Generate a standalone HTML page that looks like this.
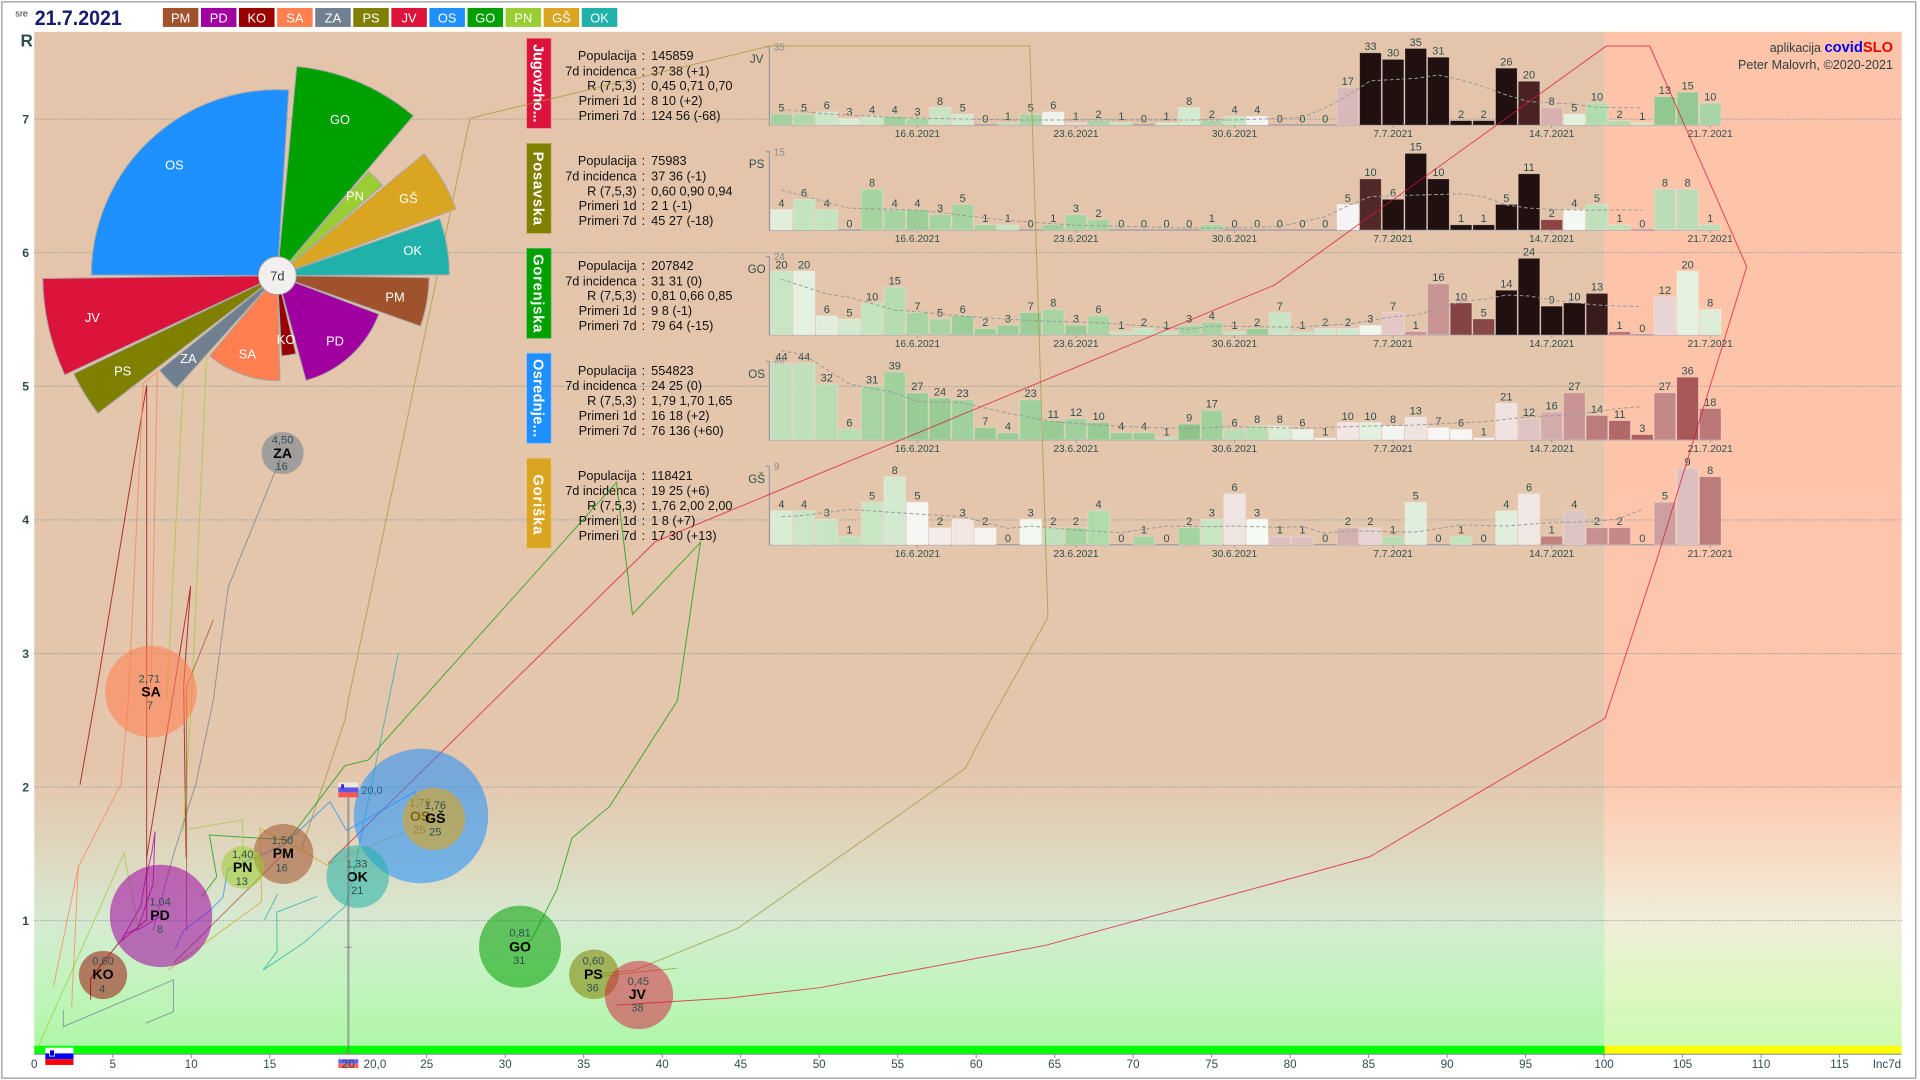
<!DOCTYPE html>
<html><head><meta charset="utf-8"><style>
html,body{margin:0;padding:0;background:#fff;overflow:hidden}
svg{display:block;font-family:"Liberation Sans",sans-serif}
.bl text{font-size:9px;fill:#2f4f4f;text-anchor:middle}
.bars rect{stroke:rgba(255,255,255,0.3);stroke-width:0.6}
.dt{font-size:8.3px;fill:#2f4f4f;text-anchor:middle}
.inf text{font-size:10.4px;fill:#111}
.lab{text-anchor:end}
.col{text-anchor:middle}
.xl text{font-size:9.5px;fill:#2f4f4f;text-anchor:middle}
.yl text{font-size:10px;fill:#2f4f4f;text-anchor:middle;font-weight:bold}
.wl text{font-size:10.5px;fill:#fff;text-anchor:middle}
.bub text{text-anchor:middle}
.bn{font-size:9px;fill:#2f4f4f}
.bnm{font-size:11.5px;font-weight:bold;fill:#000}
.tr polyline{fill:none;stroke-width:0.8;stroke-opacity:0.75}
.ma{fill:none;stroke:#9a9a9a;stroke-width:0.8;stroke-dasharray:3 2}
.ax{stroke:#9a9aa6;stroke-width:1;fill:none}
.chip text{font-size:10.5px;fill:#fff;text-anchor:middle}
</style></head><body>
<svg width="1920" height="1080" viewBox="0 0 1568 882" preserveAspectRatio="none" xmlns="http://www.w3.org/2000/svg">
<defs>
<linearGradient id="gL" gradientUnits="userSpaceOnUse" x1="0" y1="26" x2="0" y2="854">
<stop offset="0" stop-color="#e4c5ab"/><stop offset="0.73" stop-color="#e4c6ac"/><stop offset="0.815" stop-color="#dfd8c0"/><stop offset="0.877" stop-color="#d6ead2"/><stop offset="0.936" stop-color="#c3f4bf"/><stop offset="1" stop-color="#aff7a8"/>
</linearGradient>
<linearGradient id="gR" gradientUnits="userSpaceOnUse" x1="0" y1="26" x2="0" y2="854">
<stop offset="0" stop-color="#fdc4aa"/><stop offset="0.73" stop-color="#fdc5ab"/><stop offset="0.815" stop-color="#f8dcc6"/><stop offset="0.877" stop-color="#f0eed8"/><stop offset="0.936" stop-color="#e0f6c4"/><stop offset="1" stop-color="#cefab2"/>
</linearGradient>
</defs>
<rect x="0" y="0" width="1568" height="882" fill="#fff"/>
<rect x="1.5" y="1.5" width="1563" height="879" fill="none" stroke="#a8a8a8" stroke-width="1.2"/>

<!-- header -->
<text x="12.5" y="13.5" font-size="7.5" fill="#333">sre</text>
<text x="28.4" y="20.5" font-size="17" font-weight="bold" fill="#191970" textLength="71" lengthAdjust="spacingAndGlyphs">21.7.2021</text>
<g class="chip">
<rect x="133" y="6.5" width="29" height="15.5" fill="#a0522d"/><text x="147.5" y="18.3">PM</text>
<rect x="164.1" y="6.5" width="29" height="15.5" fill="#a000a0"/><text x="178.6" y="18.3">PD</text>
<rect x="195.2" y="6.5" width="29" height="15.5" fill="#990000"/><text x="209.7" y="18.3">KO</text>
<rect x="226.3" y="6.5" width="29" height="15.5" fill="#ff7f50"/><text x="240.8" y="18.3">SA</text>
<rect x="257.4" y="6.5" width="29" height="15.5" fill="#708090"/><text x="271.9" y="18.3">ZA</text>
<rect x="288.5" y="6.5" width="29" height="15.5" fill="#808000"/><text x="303" y="18.3">PS</text>
<rect x="319.6" y="6.5" width="29" height="15.5" fill="#dc143c"/><text x="334.1" y="18.3">JV</text>
<rect x="350.7" y="6.5" width="29" height="15.5" fill="#1e90ff"/><text x="365.2" y="18.3">OS</text>
<rect x="381.8" y="6.5" width="29" height="15.5" fill="#00a000"/><text x="396.3" y="18.3">GO</text>
<rect x="412.9" y="6.5" width="29" height="15.5" fill="#9acd32"/><text x="427.4" y="18.3">PN</text>
<rect x="444" y="6.5" width="29" height="15.5" fill="#daa520"/><text x="458.5" y="18.3">GŠ</text>
<rect x="475.1" y="6.5" width="29" height="15.5" fill="#20b2aa"/><text x="489.6" y="18.3">OK</text>
</g>

<!-- plot background -->
<rect x="28" y="26" width="1282.5" height="828" fill="url(#gL)"/>
<rect x="1310.5" y="26" width="242.5" height="828" fill="url(#gR)"/>
<rect x="28" y="854" width="1282.5" height="7" fill="#00ff00"/>
<rect x="1310.5" y="854" width="242.5" height="7" fill="#ffff00"/>
<line x1="28" y1="861" x2="1553" y2="861" stroke="#9a9aa6" stroke-width="1"/>

<!-- gridlines -->
<g stroke="#8a9c9c" stroke-width="0.7" stroke-dasharray="1.2 1.2">
<line x1="28" x2="1553" y1="97.3" y2="97.3"/>
<line x1="28" x2="1553" y1="206.4" y2="206.4"/>
<line x1="28" x2="1553" y1="315.5" y2="315.5"/>
<line x1="28" x2="1553" y1="424.6" y2="424.6"/>
<line x1="28" x2="1553" y1="533.7" y2="533.7"/>
<line x1="28" x2="1553" y1="642.8" y2="642.8"/>
<line x1="28" x2="1553" y1="751.9" y2="751.9"/>
</g>

<!-- y labels -->
<text x="21.8" y="38" font-size="14" font-weight="bold" fill="#2f4f4f" text-anchor="middle">R</text>
<g class="yl">
<text x="21" y="100.8">7</text><text x="21" y="209.9">6</text><text x="21" y="319">5</text><text x="21" y="428.1">4</text><text x="21" y="537.2">3</text><text x="21" y="646.3">2</text><text x="21" y="755.4">1</text>
</g>

<!-- x ticks and labels -->
<g stroke="#8a8a96" stroke-width="0.8">
<line x1="92.1" y1="861" x2="92.1" y2="864"/><line x1="156.2" y1="861" x2="156.2" y2="864"/><line x1="220.3" y1="861" x2="220.3" y2="864"/><line x1="348.5" y1="861" x2="348.5" y2="864"/><line x1="412.6" y1="861" x2="412.6" y2="864"/><line x1="476.7" y1="861" x2="476.7" y2="864"/><line x1="540.8" y1="861" x2="540.8" y2="864"/><line x1="604.9" y1="861" x2="604.9" y2="864"/><line x1="669" y1="861" x2="669" y2="864"/><line x1="733.1" y1="861" x2="733.1" y2="864"/><line x1="797.2" y1="861" x2="797.2" y2="864"/><line x1="861.3" y1="861" x2="861.3" y2="864"/><line x1="925.4" y1="861" x2="925.4" y2="864"/><line x1="989.5" y1="861" x2="989.5" y2="864"/><line x1="1053.6" y1="861" x2="1053.6" y2="864"/><line x1="1117.7" y1="861" x2="1117.7" y2="864"/><line x1="1181.8" y1="861" x2="1181.8" y2="864"/><line x1="1245.9" y1="861" x2="1245.9" y2="864"/><line x1="1310" y1="861" x2="1310" y2="864"/><line x1="1374.1" y1="861" x2="1374.1" y2="864"/><line x1="1438.2" y1="861" x2="1438.2" y2="864"/><line x1="1502.3" y1="861" x2="1502.3" y2="864"/>
</g>
<g class="xl">
<text x="28" y="872">0</text><text x="92.1" y="872">5</text><text x="156.2" y="872">10</text><text x="220.3" y="872">15</text><text x="348.5" y="872">25</text><text x="412.6" y="872">30</text><text x="476.7" y="872">35</text><text x="540.8" y="872">40</text><text x="604.9" y="872">45</text><text x="669" y="872">50</text><text x="733.1" y="872">55</text><text x="797.2" y="872">60</text><text x="861.3" y="872">65</text><text x="925.4" y="872">70</text><text x="989.5" y="872">75</text><text x="1053.6" y="872">80</text><text x="1117.7" y="872">85</text><text x="1181.8" y="872">90</text><text x="1245.9" y="872">95</text><text x="1310" y="872">100</text><text x="1374.1" y="872">105</text><text x="1438.2" y="872">110</text><text x="1502.3" y="872">115</text><text x="1541" y="872">Inc7d</text>
</g>

<!-- top right text -->
<text x="1546" y="42.5" font-size="10.2" text-anchor="end" fill="#2f3f3f">aplikacija <tspan font-weight="bold" font-size="12" fill="#0000ee">covid</tspan><tspan font-weight="bold" font-size="12" fill="#ee0000">SLO</tspan></text>
<text x="1546" y="56.5" font-size="10.3" text-anchor="end" fill="#2f3f3f">Peter Malovrh, ©2020-2021</text>

<!-- ===== PANELS ===== -->
<rect x="430.1" y="31.3" width="20" height="73.5" fill="#dc143c" stroke="#e88a9a" stroke-width="0.6"/>
<text transform="translate(440.1,68) rotate(90)" x="0" y="4.3" font-size="12" font-weight="bold" fill="#fff" text-anchor="middle" textLength="64" lengthAdjust="spacing">Jugovzho...</text>
<rect x="430.1" y="117.1" width="20" height="73.5" fill="#808000" stroke="#b0b060" stroke-width="0.6"/>
<text transform="translate(440.1,153.8) rotate(90)" x="0" y="4.3" font-size="12" font-weight="bold" fill="#fff" text-anchor="middle" textLength="60" lengthAdjust="spacing">Posavska</text>
<rect x="430.1" y="202.8" width="20" height="73.5" fill="#00a000" stroke="#60c060" stroke-width="0.6"/>
<text transform="translate(440.1,239.5) rotate(90)" x="0" y="4.3" font-size="12" font-weight="bold" fill="#fff" text-anchor="middle" textLength="64" lengthAdjust="spacing">Gorenjska</text>
<rect x="430.1" y="288.5" width="20" height="73.5" fill="#1e90ff" stroke="#80c0ff" stroke-width="0.6"/>
<text transform="translate(440.1,325.2) rotate(90)" x="0" y="4.3" font-size="12" font-weight="bold" fill="#fff" text-anchor="middle" textLength="64" lengthAdjust="spacing">Osrednje...</text>
<rect x="430.1" y="374.2" width="20" height="73.5" fill="#daa520" stroke="#eac070" stroke-width="0.6"/>
<text transform="translate(440.1,411.9) rotate(90)" x="0" y="4.3" font-size="12" font-weight="bold" fill="#fff" text-anchor="middle" textLength="49" lengthAdjust="spacing">Goriška</text>

<g class="inf">
<text class="lab" x="519.9" y="49">Populacija</text><text class="col" x="525.4" y="49">:</text><text x="531.8" y="49">145859</text>
<text class="lab" x="519.9" y="61.5">7d incidenca</text><text class="col" x="525.4" y="61.5">:</text><text x="531.8" y="61.5">37 38 (+1)</text>
<text class="lab" x="519.9" y="73.7">R (7,5,3)</text><text class="col" x="525.4" y="73.7">:</text><text x="531.8" y="73.7">0,45 0,71 0,70</text>
<text class="lab" x="519.9" y="85.7">Primeri 1d</text><text class="col" x="525.4" y="85.7">:</text><text x="531.8" y="85.7">8 10 (+2)</text>
<text class="lab" x="519.9" y="98">Primeri 7d</text><text class="col" x="525.4" y="98">:</text><text x="531.8" y="98">124 56 (-68)</text>

<text class="lab" x="519.9" y="134.8">Populacija</text><text class="col" x="525.4" y="134.8">:</text><text x="531.8" y="134.8">75983</text>
<text class="lab" x="519.9" y="147.3">7d incidenca</text><text class="col" x="525.4" y="147.3">:</text><text x="531.8" y="147.3">37 36 (-1)</text>
<text class="lab" x="519.9" y="159.5">R (7,5,3)</text><text class="col" x="525.4" y="159.5">:</text><text x="531.8" y="159.5">0,60 0,90 0,94</text>
<text class="lab" x="519.9" y="171.5">Primeri 1d</text><text class="col" x="525.4" y="171.5">:</text><text x="531.8" y="171.5">2 1 (-1)</text>
<text class="lab" x="519.9" y="183.8">Primeri 7d</text><text class="col" x="525.4" y="183.8">:</text><text x="531.8" y="183.8">45 27 (-18)</text>

<text class="lab" x="519.9" y="220.5">Populacija</text><text class="col" x="525.4" y="220.5">:</text><text x="531.8" y="220.5">207842</text>
<text class="lab" x="519.9" y="233">7d incidenca</text><text class="col" x="525.4" y="233">:</text><text x="531.8" y="233">31 31 (0)</text>
<text class="lab" x="519.9" y="245.2">R (7,5,3)</text><text class="col" x="525.4" y="245.2">:</text><text x="531.8" y="245.2">0,81 0,66 0,85</text>
<text class="lab" x="519.9" y="257.2">Primeri 1d</text><text class="col" x="525.4" y="257.2">:</text><text x="531.8" y="257.2">9 8 (-1)</text>
<text class="lab" x="519.9" y="269.5">Primeri 7d</text><text class="col" x="525.4" y="269.5">:</text><text x="531.8" y="269.5">79 64 (-15)</text>

<text class="lab" x="519.9" y="306.2">Populacija</text><text class="col" x="525.4" y="306.2">:</text><text x="531.8" y="306.2">554823</text>
<text class="lab" x="519.9" y="318.7">7d incidenca</text><text class="col" x="525.4" y="318.7">:</text><text x="531.8" y="318.7">24 25 (0)</text>
<text class="lab" x="519.9" y="330.9">R (7,5,3)</text><text class="col" x="525.4" y="330.9">:</text><text x="531.8" y="330.9">1,79 1,70 1,65</text>
<text class="lab" x="519.9" y="342.9">Primeri 1d</text><text class="col" x="525.4" y="342.9">:</text><text x="531.8" y="342.9">16 18 (+2)</text>
<text class="lab" x="519.9" y="355.2">Primeri 7d</text><text class="col" x="525.4" y="355.2">:</text><text x="531.8" y="355.2">76 136 (+60)</text>

<text class="lab" x="519.9" y="391.9">Populacija</text><text class="col" x="525.4" y="391.9">:</text><text x="531.8" y="391.9">118421</text>
<text class="lab" x="519.9" y="404.4">7d incidenca</text><text class="col" x="525.4" y="404.4">:</text><text x="531.8" y="404.4">19 25 (+6)</text>
<text class="lab" x="519.9" y="416.6">R (7,5,3)</text><text class="col" x="525.4" y="416.6">:</text><text x="531.8" y="416.6">1,76 2,00 2,00</text>
<text class="lab" x="519.9" y="428.6">Primeri 1d</text><text class="col" x="525.4" y="428.6">:</text><text x="531.8" y="428.6">1 8 (+7)</text>
<text class="lab" x="519.9" y="440.9">Primeri 7d</text><text class="col" x="525.4" y="440.9">:</text><text x="531.8" y="440.9">17 30 (+13)</text>
</g>

<!-- PANEL 1 JV -->
<g transform="translate(0,102.1)">
<path class="ax" d="M625.5,-64H628.3V0H1405"/>
<g stroke="#9a9aa6" stroke-width="0.8"><line x1="749.2" y1="0" x2="749.2" y2="2.5"/><line x1="878.7" y1="0" x2="878.7" y2="2.5"/><line x1="1008.2" y1="0" x2="1008.2" y2="2.5"/><line x1="1137.7" y1="0" x2="1137.7" y2="2.5"/><line x1="1267.2" y1="0" x2="1267.2" y2="2.5"/><line x1="1396.7" y1="0" x2="1396.7" y2="2.5"/></g>
<text x="632" y="-61" font-size="8" fill="#8a8a8a">35</text>
<text x="617.9" y="-50.6" font-size="9.5" fill="#2f4f4f" text-anchor="middle">JV</text>
<g class="bars">
<rect x="629.4" y="-8.93" width="17.6" height="8.93" fill="#a4d0a0"/>
<rect x="647.9" y="-8.93" width="17.6" height="8.93" fill="#b0d8ac"/>
<rect x="666.4" y="-10.71" width="17.6" height="10.71" fill="#cce6c8"/>
<rect x="684.9" y="-5.36" width="17.6" height="5.36" fill="#d8ecd4"/>
<rect x="703.4" y="-7.14" width="17.6" height="7.14" fill="#cce6c8"/>
<rect x="721.9" y="-7.14" width="17.6" height="7.14" fill="#a0d09c"/>
<rect x="740.4" y="-5.36" width="17.6" height="5.36" fill="#a8d4a4"/>
<rect x="758.9" y="-14.29" width="17.6" height="14.29" fill="#c8e4c4"/>
<rect x="777.4" y="-8.93" width="17.6" height="8.93" fill="#d4ead0"/>
<rect x="814.4" y="-1.79" width="17.6" height="1.79" fill="#b8dcb4"/>
<rect x="832.9" y="-8.93" width="17.6" height="8.93" fill="#a8d4a4"/>
<rect x="851.4" y="-10.71" width="17.6" height="10.71" fill="#eef4ec"/>
<rect x="869.9" y="-1.79" width="17.6" height="1.79" fill="#e8d4d0"/>
<rect x="888.4" y="-3.57" width="17.6" height="3.57" fill="#a8d4a4"/>
<rect x="906.9" y="-1.79" width="17.6" height="1.79" fill="#c4e4c0"/>
<rect x="943.9" y="-1.79" width="17.6" height="1.79" fill="#d4ead0"/>
<rect x="962.4" y="-14.29" width="17.6" height="14.29" fill="#d4ead0"/>
<rect x="980.9" y="-3.57" width="17.6" height="3.57" fill="#a8d4a4"/>
<rect x="999.4" y="-7.14" width="17.6" height="7.14" fill="#c4e4c0"/>
<rect x="1017.9" y="-7.14" width="17.6" height="7.14" fill="#f4f4f2"/>
<rect x="1091.9" y="-30.36" width="17.6" height="30.36" fill="#d8b8b8"/>
<rect x="1110.4" y="-58.93" width="17.6" height="58.93" fill="#201010"/>
<rect x="1128.9" y="-53.57" width="17.6" height="53.57" fill="#201010"/>
<rect x="1147.4" y="-62.5" width="17.6" height="62.5" fill="#201010"/>
<rect x="1165.9" y="-55.36" width="17.6" height="55.36" fill="#201010"/>
<rect x="1184.4" y="-3.57" width="17.6" height="3.57" fill="#201010"/>
<rect x="1202.9" y="-3.57" width="17.6" height="3.57" fill="#201010"/>
<rect x="1221.4" y="-46.43" width="17.6" height="46.43" fill="#201010"/>
<rect x="1239.9" y="-35.71" width="17.6" height="35.71" fill="#4a2222"/>
<rect x="1258.4" y="-14.29" width="17.6" height="14.29" fill="#d8b0b0"/>
<rect x="1276.9" y="-8.93" width="17.6" height="8.93" fill="#e2f0dc"/>
<rect x="1295.4" y="-17.86" width="17.6" height="17.86" fill="#b0dcb0"/>
<rect x="1313.9" y="-3.57" width="17.6" height="3.57" fill="#b0dcb0"/>
<rect x="1332.4" y="-1.79" width="17.6" height="1.79" fill="#c8e6c4"/>
<rect x="1350.9" y="-23.21" width="17.6" height="23.21" fill="#90c890"/>
<rect x="1369.4" y="-26.79" width="17.6" height="26.79" fill="#94c894"/>
<rect x="1387.9" y="-17.86" width="17.6" height="17.86" fill="#a8d4a8"/>
</g>
<g class="bl">
<text x="638.2" y="-11.1">5</text><text x="656.7" y="-11.1">5</text><text x="675.2" y="-12.9">6</text><text x="693.7" y="-7.6">3</text><text x="712.2" y="-9.3">4</text><text x="730.7" y="-9.3">4</text><text x="749.2" y="-7.6">3</text><text x="767.7" y="-16.5">8</text><text x="786.2" y="-11.1">5</text><text x="804.7" y="-2.2">0</text><text x="823.2" y="-4">1</text><text x="841.7" y="-11.1">5</text><text x="860.2" y="-12.9">6</text><text x="878.7" y="-4">1</text><text x="897.2" y="-5.8">2</text><text x="915.7" y="-4">1</text><text x="934.2" y="-2.2">0</text><text x="952.7" y="-4">1</text><text x="971.2" y="-16.5">8</text><text x="989.7" y="-5.8">2</text><text x="1008.2" y="-9.3">4</text><text x="1026.7" y="-9.3">4</text><text x="1045.2" y="-2.2">0</text><text x="1063.7" y="-2.2">0</text><text x="1082.2" y="-2.2">0</text><text x="1100.7" y="-32.6">17</text><text x="1119.2" y="-61.1">33</text><text x="1137.7" y="-55.8">30</text><text x="1156.2" y="-64.7">35</text><text x="1174.7" y="-57.6">31</text><text x="1193.2" y="-5.8">2</text><text x="1211.7" y="-5.8">2</text><text x="1230.2" y="-48.6">26</text><text x="1248.7" y="-37.9">20</text><text x="1267.2" y="-16.5">8</text><text x="1285.7" y="-11.1">5</text><text x="1304.2" y="-20.1">10</text><text x="1322.7" y="-5.8">2</text><text x="1341.2" y="-4">1</text><text x="1359.7" y="-25.4">13</text><text x="1378.2" y="-29">15</text><text x="1396.7" y="-20.1">10</text>
</g>
<g class="dt"><text x="749.2" y="9.8">16.6.2021</text><text x="878.7" y="9.8">23.6.2021</text><text x="1008.2" y="9.8">30.6.2021</text><text x="1137.7" y="9.8">7.7.2021</text><text x="1267.2" y="9.8">14.7.2021</text><text x="1396.7" y="9.8">21.7.2021</text></g>
</g>
<polyline class="ma" points="638.2,89.3 675.2,93 730.7,96 823.2,98 1008.2,98 1063.7,96 1082.2,88 1100.7,78 1119.2,66 1156.2,64 1174.7,61.3 1193.2,65.3 1211.7,70.8 1230.2,77.6 1248.7,83 1285.7,85 1304.2,87.7 1341.2,88"/>

<!-- PANEL 2 PS -->
<g transform="translate(0,187.8)">
<path class="ax" d="M625.5,-64H628.3V0H1405"/>
<g stroke="#9a9aa6" stroke-width="0.8"><line x1="749.2" y1="0" x2="749.2" y2="2.5"/><line x1="878.7" y1="0" x2="878.7" y2="2.5"/><line x1="1008.2" y1="0" x2="1008.2" y2="2.5"/><line x1="1137.7" y1="0" x2="1137.7" y2="2.5"/><line x1="1267.2" y1="0" x2="1267.2" y2="2.5"/><line x1="1396.7" y1="0" x2="1396.7" y2="2.5"/></g>
<text x="632" y="-61" font-size="8" fill="#8a8a8a">15</text>
<text x="617.9" y="-50.6" font-size="9.5" fill="#2f4f4f" text-anchor="middle">PS</text>
<g class="bars">
<rect x="629.4" y="-16.67" width="17.6" height="16.67" fill="#e0eedb"/>
<rect x="647.9" y="-25" width="17.6" height="25" fill="#c4e4c0"/>
<rect x="666.4" y="-16.67" width="17.6" height="16.67" fill="#c4e4c0"/>
<rect x="703.4" y="-33.33" width="17.6" height="33.33" fill="#a6d4a0"/>
<rect x="721.9" y="-16.67" width="17.6" height="16.67" fill="#a6d4a0"/>
<rect x="740.4" y="-16.67" width="17.6" height="16.67" fill="#9ccc98"/>
<rect x="758.9" y="-12.5" width="17.6" height="12.5" fill="#a6d4a0"/>
<rect x="777.4" y="-20.83" width="17.6" height="20.83" fill="#a6d4a0"/>
<rect x="795.9" y="-4.17" width="17.6" height="4.17" fill="#a6d4a0"/>
<rect x="814.4" y="-4.17" width="17.6" height="4.17" fill="#c4e4c0"/>
<rect x="851.4" y="-4.17" width="17.6" height="4.17" fill="#9fd09c"/>
<rect x="869.9" y="-12.5" width="17.6" height="12.5" fill="#a6d4a0"/>
<rect x="888.4" y="-8.33" width="17.6" height="8.33" fill="#a6d4a0"/>
<rect x="980.9" y="-4.17" width="17.6" height="4.17" fill="#a6d4a0"/>
<rect x="1091.9" y="-20.83" width="17.6" height="20.83" fill="#f4f4f4"/>
<rect x="1110.4" y="-41.67" width="17.6" height="41.67" fill="#502828"/>
<rect x="1128.9" y="-25" width="17.6" height="25" fill="#201010"/>
<rect x="1147.4" y="-62.5" width="17.6" height="62.5" fill="#201010"/>
<rect x="1165.9" y="-41.67" width="17.6" height="41.67" fill="#201010"/>
<rect x="1184.4" y="-4.17" width="17.6" height="4.17" fill="#201010"/>
<rect x="1202.9" y="-4.17" width="17.6" height="4.17" fill="#201010"/>
<rect x="1221.4" y="-20.83" width="17.6" height="20.83" fill="#201010"/>
<rect x="1239.9" y="-45.83" width="17.6" height="45.83" fill="#201010"/>
<rect x="1258.4" y="-8.33" width="17.6" height="8.33" fill="#8c4444"/>
<rect x="1276.9" y="-16.67" width="17.6" height="16.67" fill="#f4f8f2"/>
<rect x="1295.4" y="-20.83" width="17.6" height="20.83" fill="#c0e0bc"/>
<rect x="1313.9" y="-4.17" width="17.6" height="4.17" fill="#c0e0bc"/>
<rect x="1350.9" y="-33.33" width="17.6" height="33.33" fill="#bcdcb8"/>
<rect x="1369.4" y="-33.33" width="17.6" height="33.33" fill="#bcdcb8"/>
<rect x="1387.9" y="-4.17" width="17.6" height="4.17" fill="#bcdcb8"/>
</g>
<g class="bl">
<text x="638.2" y="-18.9">4</text><text x="656.7" y="-27.2">6</text><text x="675.2" y="-18.9">4</text><text x="693.7" y="-2.2">0</text><text x="712.2" y="-35.5">8</text><text x="730.7" y="-18.9">4</text><text x="749.2" y="-18.9">4</text><text x="767.7" y="-14.7">3</text><text x="786.2" y="-23">5</text><text x="804.7" y="-6.4">1</text><text x="823.2" y="-6.4">1</text><text x="841.7" y="-2.2">0</text><text x="860.2" y="-6.4">1</text><text x="878.7" y="-14.7">3</text><text x="897.2" y="-10.5">2</text><text x="915.7" y="-2.2">0</text><text x="934.2" y="-2.2">0</text><text x="952.7" y="-2.2">0</text><text x="971.2" y="-2.2">0</text><text x="989.7" y="-6.4">1</text><text x="1008.2" y="-2.2">0</text><text x="1026.7" y="-2.2">0</text><text x="1045.2" y="-2.2">0</text><text x="1063.7" y="-2.2">0</text><text x="1082.2" y="-2.2">0</text><text x="1100.7" y="-23">5</text><text x="1119.2" y="-43.9">10</text><text x="1137.7" y="-27.2">6</text><text x="1156.2" y="-64.7">15</text><text x="1174.7" y="-43.9">10</text><text x="1193.2" y="-6.4">1</text><text x="1211.7" y="-6.4">1</text><text x="1230.2" y="-23">5</text><text x="1248.7" y="-48">11</text><text x="1267.2" y="-10.5">2</text><text x="1285.7" y="-18.9">4</text><text x="1304.2" y="-23">5</text><text x="1322.7" y="-6.4">1</text><text x="1341.2" y="-2.2">0</text><text x="1359.7" y="-35.5">8</text><text x="1378.2" y="-35.5">8</text><text x="1396.7" y="-6.4">1</text>
</g>
<g class="dt"><text x="749.2" y="9.8">16.6.2021</text><text x="878.7" y="9.8">23.6.2021</text><text x="1008.2" y="9.8">30.6.2021</text><text x="1137.7" y="9.8">7.7.2021</text><text x="1267.2" y="9.8">14.7.2021</text><text x="1396.7" y="9.8">21.7.2021</text></g>
</g>
<polyline class="ma" points="638.2,155.2 693.7,170 749.2,171.5 804.7,178 823.2,180 878.7,184 989.7,186.5 1045.2,185 1063.7,181 1082.2,177 1100.7,168 1119.2,160.6 1156.2,159.3 1193.2,158.4 1211.7,160.6 1230.2,167.4 1248.7,170 1285.7,171.5 1341.2,171.5"/>

<!-- PANEL 3 GO -->
<g transform="translate(0,273.5)">
<path class="ax" d="M625.5,-64H628.3V0H1405"/>
<g stroke="#9a9aa6" stroke-width="0.8"><line x1="749.2" y1="0" x2="749.2" y2="2.5"/><line x1="878.7" y1="0" x2="878.7" y2="2.5"/><line x1="1008.2" y1="0" x2="1008.2" y2="2.5"/><line x1="1137.7" y1="0" x2="1137.7" y2="2.5"/><line x1="1267.2" y1="0" x2="1267.2" y2="2.5"/><line x1="1396.7" y1="0" x2="1396.7" y2="2.5"/></g>
<text x="632" y="-61" font-size="8" fill="#8a8a8a">24</text>
<text x="617.9" y="-50.6" font-size="9.5" fill="#2f4f4f" text-anchor="middle">GO</text>
<g class="bars">
<rect x="629.4" y="-52.08" width="17.6" height="52.08" fill="#c8e6c4"/>
<rect x="647.9" y="-52.08" width="17.6" height="52.08" fill="#e4f0e0"/>
<rect x="666.4" y="-15.63" width="17.6" height="15.63" fill="#e0eedb"/>
<rect x="684.9" y="-13.02" width="17.6" height="13.02" fill="#d4ead0"/>
<rect x="703.4" y="-26.04" width="17.6" height="26.04" fill="#c4e4c0"/>
<rect x="721.9" y="-39.06" width="17.6" height="39.06" fill="#b4dcb0"/>
<rect x="740.4" y="-18.23" width="17.6" height="18.23" fill="#a8d4a4"/>
<rect x="758.9" y="-13.02" width="17.6" height="13.02" fill="#a8d4a4"/>
<rect x="777.4" y="-15.63" width="17.6" height="15.63" fill="#9ccc98"/>
<rect x="795.9" y="-5.21" width="17.6" height="5.21" fill="#9ccc98"/>
<rect x="814.4" y="-7.81" width="17.6" height="7.81" fill="#9ccc98"/>
<rect x="832.9" y="-18.23" width="17.6" height="18.23" fill="#9ccc98"/>
<rect x="851.4" y="-20.83" width="17.6" height="20.83" fill="#a8d4a4"/>
<rect x="869.9" y="-7.81" width="17.6" height="7.81" fill="#98cc94"/>
<rect x="888.4" y="-15.63" width="17.6" height="15.63" fill="#a8d4a4"/>
<rect x="906.9" y="-2.6" width="17.6" height="2.6" fill="#c4e4c0"/>
<rect x="925.4" y="-5.21" width="17.6" height="5.21" fill="#c4e4c0"/>
<rect x="943.9" y="-2.6" width="17.6" height="2.6" fill="#c4e4c0"/>
<rect x="962.4" y="-7.81" width="17.6" height="7.81" fill="#a8d4a4"/>
<rect x="980.9" y="-10.42" width="17.6" height="10.42" fill="#a8d4a4"/>
<rect x="999.4" y="-2.6" width="17.6" height="2.6" fill="#c4e4c0"/>
<rect x="1017.9" y="-5.21" width="17.6" height="5.21" fill="#9ccc98"/>
<rect x="1036.4" y="-18.23" width="17.6" height="18.23" fill="#c8e4c4"/>
<rect x="1054.9" y="-2.6" width="17.6" height="2.6" fill="#c8e4c4"/>
<rect x="1073.4" y="-5.21" width="17.6" height="5.21" fill="#d0e8cc"/>
<rect x="1091.9" y="-5.21" width="17.6" height="5.21" fill="#d0e8cc"/>
<rect x="1110.4" y="-7.81" width="17.6" height="7.81" fill="#f0f6ee"/>
<rect x="1128.9" y="-18.23" width="17.6" height="18.23" fill="#e4c8c8"/>
<rect x="1147.4" y="-2.6" width="17.6" height="2.6" fill="#d09090"/>
<rect x="1165.9" y="-41.67" width="17.6" height="41.67" fill="#c89494"/>
<rect x="1184.4" y="-26.04" width="17.6" height="26.04" fill="#844444"/>
<rect x="1202.9" y="-13.02" width="17.6" height="13.02" fill="#884848"/>
<rect x="1221.4" y="-36.46" width="17.6" height="36.46" fill="#201010"/>
<rect x="1239.9" y="-62.5" width="17.6" height="62.5" fill="#201010"/>
<rect x="1258.4" y="-23.44" width="17.6" height="23.44" fill="#201010"/>
<rect x="1276.9" y="-26.04" width="17.6" height="26.04" fill="#201010"/>
<rect x="1295.4" y="-33.85" width="17.6" height="33.85" fill="#381c1c"/>
<rect x="1313.9" y="-2.6" width="17.6" height="2.6" fill="#c07070"/>
<rect x="1350.9" y="-31.25" width="17.6" height="31.25" fill="#e8d4d4"/>
<rect x="1369.4" y="-52.08" width="17.6" height="52.08" fill="#e4f0e0"/>
<rect x="1387.9" y="-20.83" width="17.6" height="20.83" fill="#dcecd8"/>
</g>
<g class="bl">
<text x="638.2" y="-54.3">20</text><text x="656.7" y="-54.3">20</text><text x="675.2" y="-17.8">6</text><text x="693.7" y="-15.2">5</text><text x="712.2" y="-28.2">10</text><text x="730.7" y="-41.3">15</text><text x="749.2" y="-20.4">7</text><text x="767.7" y="-15.2">5</text><text x="786.2" y="-17.8">6</text><text x="804.7" y="-7.4">2</text><text x="823.2" y="-10">3</text><text x="841.7" y="-20.4">7</text><text x="860.2" y="-23">8</text><text x="878.7" y="-10">3</text><text x="897.2" y="-17.8">6</text><text x="915.7" y="-4.8">1</text><text x="934.2" y="-7.4">2</text><text x="952.7" y="-4.8">1</text><text x="971.2" y="-10">3</text><text x="989.7" y="-12.6">4</text><text x="1008.2" y="-4.8">1</text><text x="1026.7" y="-7.4">2</text><text x="1045.2" y="-20.4">7</text><text x="1063.7" y="-4.8">1</text><text x="1082.2" y="-7.4">2</text><text x="1100.7" y="-7.4">2</text><text x="1119.2" y="-10">3</text><text x="1137.7" y="-20.4">7</text><text x="1156.2" y="-4.8">1</text><text x="1174.7" y="-43.9">16</text><text x="1193.2" y="-28.2">10</text><text x="1211.7" y="-15.2">5</text><text x="1230.2" y="-38.7">14</text><text x="1248.7" y="-64.7">24</text><text x="1267.2" y="-25.6">9</text><text x="1285.7" y="-28.2">10</text><text x="1304.2" y="-36.1">13</text><text x="1322.7" y="-4.8">1</text><text x="1341.2" y="-2.2">0</text><text x="1359.7" y="-33.5">12</text><text x="1378.2" y="-54.3">20</text><text x="1396.7" y="-23">8</text>
</g>
<g class="dt"><text x="749.2" y="9.8">16.6.2021</text><text x="878.7" y="9.8">23.6.2021</text><text x="1008.2" y="9.8">30.6.2021</text><text x="1137.7" y="9.8">7.7.2021</text><text x="1267.2" y="9.8">14.7.2021</text><text x="1396.7" y="9.8">21.7.2021</text></g>
</g>
<polyline class="ma" points="638.2,228.1 675.2,240.1 693.7,242.8 730.7,253.2 749.2,254.5 786.2,258.1 823.2,260.8 860.2,262.4 897.2,263.5 934.2,266.2 971.2,269 989.7,266.2 1026.7,266.8 1063.7,267.3 1082.2,265.4 1100.7,264.9 1137.7,258.6 1156.2,257.3 1174.7,251.8 1193.2,246.4 1211.7,244.5 1230.2,240.9 1248.7,241.7 1267.2,245 1285.7,247.2 1304.2,249.1 1322.7,249.9 1341.2,250.4"/>

<!-- PANEL 4 OS -->
<g transform="translate(0,359.2)">
<path class="ax" d="M625.5,-64H628.3V0H1405"/>
<g stroke="#9a9aa6" stroke-width="0.8"><line x1="749.2" y1="0" x2="749.2" y2="2.5"/><line x1="878.7" y1="0" x2="878.7" y2="2.5"/><line x1="1008.2" y1="0" x2="1008.2" y2="2.5"/><line x1="1137.7" y1="0" x2="1137.7" y2="2.5"/><line x1="1267.2" y1="0" x2="1267.2" y2="2.5"/><line x1="1396.7" y1="0" x2="1396.7" y2="2.5"/></g>
<text x="632" y="-61" font-size="8" fill="#8a8a8a">44</text>
<text x="617.9" y="-50.6" font-size="9.5" fill="#2f4f4f" text-anchor="middle">OS</text>
<g class="bars">
<rect x="629.4" y="-62.5" width="17.6" height="62.5" fill="#c0e0bc"/>
<rect x="647.9" y="-62.5" width="17.6" height="62.5" fill="#c0e0bc"/>
<rect x="666.4" y="-45.45" width="17.6" height="45.45" fill="#b8dcb4"/>
<rect x="684.9" y="-8.52" width="17.6" height="8.52" fill="#b8dcb4"/>
<rect x="703.4" y="-44.03" width="17.6" height="44.03" fill="#a8d4a4"/>
<rect x="721.9" y="-55.4" width="17.6" height="55.4" fill="#a0d09c"/>
<rect x="740.4" y="-38.35" width="17.6" height="38.35" fill="#98cc94"/>
<rect x="758.9" y="-34.09" width="17.6" height="34.09" fill="#98cc94"/>
<rect x="777.4" y="-32.67" width="17.6" height="32.67" fill="#a0d09c"/>
<rect x="795.9" y="-9.94" width="17.6" height="9.94" fill="#98cc94"/>
<rect x="814.4" y="-5.68" width="17.6" height="5.68" fill="#98cc94"/>
<rect x="832.9" y="-32.67" width="17.6" height="32.67" fill="#a0d09c"/>
<rect x="851.4" y="-15.63" width="17.6" height="15.63" fill="#98cc94"/>
<rect x="869.9" y="-17.05" width="17.6" height="17.05" fill="#a0d09c"/>
<rect x="888.4" y="-14.2" width="17.6" height="14.2" fill="#98cc94"/>
<rect x="906.9" y="-5.68" width="17.6" height="5.68" fill="#98cc94"/>
<rect x="925.4" y="-5.68" width="17.6" height="5.68" fill="#98cc94"/>
<rect x="943.9" y="-1.42" width="17.6" height="1.42" fill="#b8dcb4"/>
<rect x="962.4" y="-12.78" width="17.6" height="12.78" fill="#8cc48a"/>
<rect x="980.9" y="-24.15" width="17.6" height="24.15" fill="#a0d09c"/>
<rect x="999.4" y="-8.52" width="17.6" height="8.52" fill="#b8dcb4"/>
<rect x="1017.9" y="-11.36" width="17.6" height="11.36" fill="#b8dcb4"/>
<rect x="1036.4" y="-11.36" width="17.6" height="11.36" fill="#d8ecd4"/>
<rect x="1054.9" y="-8.52" width="17.6" height="8.52" fill="#e8f2e6"/>
<rect x="1073.4" y="-1.42" width="17.6" height="1.42" fill="#f4f4f2"/>
<rect x="1091.9" y="-14.2" width="17.6" height="14.2" fill="#f2e6e4"/>
<rect x="1110.4" y="-14.2" width="17.6" height="14.2" fill="#e4f0e0"/>
<rect x="1128.9" y="-11.36" width="17.6" height="11.36" fill="#f4f4f2"/>
<rect x="1147.4" y="-18.47" width="17.6" height="18.47" fill="#f0e4e2"/>
<rect x="1165.9" y="-9.94" width="17.6" height="9.94" fill="#f8f6f4"/>
<rect x="1184.4" y="-8.52" width="17.6" height="8.52" fill="#f8f6f4"/>
<rect x="1202.9" y="-1.42" width="17.6" height="1.42" fill="#f8f6f4"/>
<rect x="1221.4" y="-29.83" width="17.6" height="29.83" fill="#f0e2e0"/>
<rect x="1239.9" y="-17.05" width="17.6" height="17.05" fill="#e0c4c4"/>
<rect x="1258.4" y="-22.73" width="17.6" height="22.73" fill="#d4acac"/>
<rect x="1276.9" y="-38.35" width="17.6" height="38.35" fill="#c89494"/>
<rect x="1295.4" y="-19.89" width="17.6" height="19.89" fill="#bc7c7c"/>
<rect x="1313.9" y="-15.63" width="17.6" height="15.63" fill="#b06868"/>
<rect x="1332.4" y="-4.26" width="17.6" height="4.26" fill="#b06060"/>
<rect x="1350.9" y="-38.35" width="17.6" height="38.35" fill="#c48888"/>
<rect x="1369.4" y="-51.14" width="17.6" height="51.14" fill="#a85858"/>
<rect x="1387.9" y="-25.57" width="17.6" height="25.57" fill="#bc7878"/>
</g>
<g class="bl">
<text x="638.2" y="-64.7">44</text><text x="656.7" y="-64.7">44</text><text x="675.2" y="-47.7">32</text><text x="693.7" y="-10.7">6</text><text x="712.2" y="-46.2">31</text><text x="730.7" y="-57.6">39</text><text x="749.2" y="-40.6">27</text><text x="767.7" y="-36.3">24</text><text x="786.2" y="-34.9">23</text><text x="804.7" y="-12.1">7</text><text x="823.2" y="-7.9">4</text><text x="841.7" y="-34.9">23</text><text x="860.2" y="-17.8">11</text><text x="878.7" y="-19.3">12</text><text x="897.2" y="-16.4">10</text><text x="915.7" y="-7.9">4</text><text x="934.2" y="-7.9">4</text><text x="952.7" y="-3.6">1</text><text x="971.2" y="-15">9</text><text x="989.7" y="-26.4">17</text><text x="1008.2" y="-10.7">6</text><text x="1026.7" y="-13.6">8</text><text x="1045.2" y="-13.6">8</text><text x="1063.7" y="-10.7">6</text><text x="1082.2" y="-3.6">1</text><text x="1100.7" y="-16.4">10</text><text x="1119.2" y="-16.4">10</text><text x="1137.7" y="-13.6">8</text><text x="1156.2" y="-20.7">13</text><text x="1174.7" y="-12.1">7</text><text x="1193.2" y="-10.7">6</text><text x="1211.7" y="-3.6">1</text><text x="1230.2" y="-32">21</text><text x="1248.7" y="-19.3">12</text><text x="1267.2" y="-24.9">16</text><text x="1285.7" y="-40.6">27</text><text x="1304.2" y="-22.1">14</text><text x="1322.7" y="-17.8">11</text><text x="1341.2" y="-6.5">3</text><text x="1359.7" y="-40.6">27</text><text x="1378.2" y="-53.3">36</text><text x="1396.7" y="-27.8">18</text>
</g>
<g class="dt"><text x="749.2" y="9.8">16.6.2021</text><text x="878.7" y="9.8">23.6.2021</text><text x="1008.2" y="9.8">30.6.2021</text><text x="1137.7" y="9.8">7.7.2021</text><text x="1267.2" y="9.8">14.7.2021</text><text x="1396.7" y="9.8">21.7.2021</text></g>
</g>
<polyline class="ma" points="638.2,286.4 656.7,289.9 693.7,313.6 730.7,320.7 749.2,328 786.2,328.8 823.2,337.6 860.2,344.4 897.2,347.1 934.2,349 971.2,349.8 1008.2,348.4 1063.7,349.8 1100.7,348.4 1156.2,347.1 1211.7,344.4 1248.7,340.3 1285.7,338.9 1322.7,333.5 1341.2,332.1"/>

<!-- PANEL 5 GŠ -->
<g transform="translate(0,444.9)">
<path class="ax" d="M625.5,-64H628.3V0H1405"/>
<g stroke="#9a9aa6" stroke-width="0.8"><line x1="749.2" y1="0" x2="749.2" y2="2.5"/><line x1="878.7" y1="0" x2="878.7" y2="2.5"/><line x1="1008.2" y1="0" x2="1008.2" y2="2.5"/><line x1="1137.7" y1="0" x2="1137.7" y2="2.5"/><line x1="1267.2" y1="0" x2="1267.2" y2="2.5"/><line x1="1396.7" y1="0" x2="1396.7" y2="2.5"/></g>
<text x="632" y="-61" font-size="8" fill="#8a8a8a">9</text>
<text x="617.9" y="-50.6" font-size="9.5" fill="#2f4f4f" text-anchor="middle">GŠ</text>
<g class="bars">
<rect x="629.4" y="-27.78" width="17.6" height="27.78" fill="#d8ecd4"/>
<rect x="647.9" y="-27.78" width="17.6" height="27.78" fill="#cce6c8"/>
<rect x="666.4" y="-20.83" width="17.6" height="20.83" fill="#c8e4c4"/>
<rect x="684.9" y="-6.94" width="17.6" height="6.94" fill="#c0e0bc"/>
<rect x="703.4" y="-34.72" width="17.6" height="34.72" fill="#c8e6c4"/>
<rect x="721.9" y="-55.56" width="17.6" height="55.56" fill="#d4ead0"/>
<rect x="740.4" y="-34.72" width="17.6" height="34.72" fill="#f6f6f4"/>
<rect x="758.9" y="-13.89" width="17.6" height="13.89" fill="#f4ecea"/>
<rect x="777.4" y="-20.83" width="17.6" height="20.83" fill="#f2e6e4"/>
<rect x="795.9" y="-13.89" width="17.6" height="13.89" fill="#f6f2f0"/>
<rect x="832.9" y="-20.83" width="17.6" height="20.83" fill="#f2f8f0"/>
<rect x="851.4" y="-13.89" width="17.6" height="13.89" fill="#c0e0bc"/>
<rect x="869.9" y="-13.89" width="17.6" height="13.89" fill="#a4d4a0"/>
<rect x="888.4" y="-27.78" width="17.6" height="27.78" fill="#b0dcac"/>
<rect x="925.4" y="-6.94" width="17.6" height="6.94" fill="#a8d4a4"/>
<rect x="962.4" y="-13.89" width="17.6" height="13.89" fill="#a4d4a0"/>
<rect x="980.9" y="-20.83" width="17.6" height="20.83" fill="#c8e6c4"/>
<rect x="999.4" y="-41.67" width="17.6" height="41.67" fill="#f0e4e2"/>
<rect x="1017.9" y="-20.83" width="17.6" height="20.83" fill="#f6faf4"/>
<rect x="1036.4" y="-6.94" width="17.6" height="6.94" fill="#dcc0c0"/>
<rect x="1054.9" y="-6.94" width="17.6" height="6.94" fill="#dcc0c0"/>
<rect x="1091.9" y="-13.89" width="17.6" height="13.89" fill="#d4b0b0"/>
<rect x="1110.4" y="-13.89" width="17.6" height="13.89" fill="#e8d4d4"/>
<rect x="1128.9" y="-6.94" width="17.6" height="6.94" fill="#b8dcb4"/>
<rect x="1147.4" y="-34.72" width="17.6" height="34.72" fill="#e0eedc"/>
<rect x="1184.4" y="-6.94" width="17.6" height="6.94" fill="#c4e4c0"/>
<rect x="1221.4" y="-27.78" width="17.6" height="27.78" fill="#e0eedc"/>
<rect x="1239.9" y="-41.67" width="17.6" height="41.67" fill="#f0e6e4"/>
<rect x="1258.4" y="-6.94" width="17.6" height="6.94" fill="#c08080"/>
<rect x="1276.9" y="-27.78" width="17.6" height="27.78" fill="#dcc4c4"/>
<rect x="1295.4" y="-13.89" width="17.6" height="13.89" fill="#c89090"/>
<rect x="1313.9" y="-13.89" width="17.6" height="13.89" fill="#c48888"/>
<rect x="1350.9" y="-34.72" width="17.6" height="34.72" fill="#cca0a0"/>
<rect x="1369.4" y="-62.5" width="17.6" height="62.5" fill="#dcc0c0"/>
<rect x="1387.9" y="-55.56" width="17.6" height="55.56" fill="#bc7c7c"/>
</g>
<g class="bl">
<text x="638.2" y="-30">4</text><text x="656.7" y="-30">4</text><text x="675.2" y="-23">3</text><text x="693.7" y="-9.1">1</text><text x="712.2" y="-36.9">5</text><text x="730.7" y="-57.8">8</text><text x="749.2" y="-36.9">5</text><text x="767.7" y="-16.1">2</text><text x="786.2" y="-23">3</text><text x="804.7" y="-16.1">2</text><text x="823.2" y="-2.2">0</text><text x="841.7" y="-23">3</text><text x="860.2" y="-16.1">2</text><text x="878.7" y="-16.1">2</text><text x="897.2" y="-30">4</text><text x="915.7" y="-2.2">0</text><text x="934.2" y="-9.1">1</text><text x="952.7" y="-2.2">0</text><text x="971.2" y="-16.1">2</text><text x="989.7" y="-23">3</text><text x="1008.2" y="-43.9">6</text><text x="1026.7" y="-23">3</text><text x="1045.2" y="-9.1">1</text><text x="1063.7" y="-9.1">1</text><text x="1082.2" y="-2.2">0</text><text x="1100.7" y="-16.1">2</text><text x="1119.2" y="-16.1">2</text><text x="1137.7" y="-9.1">1</text><text x="1156.2" y="-36.9">5</text><text x="1174.7" y="-2.2">0</text><text x="1193.2" y="-9.1">1</text><text x="1211.7" y="-2.2">0</text><text x="1230.2" y="-30">4</text><text x="1248.7" y="-43.9">6</text><text x="1267.2" y="-9.1">1</text><text x="1285.7" y="-30">4</text><text x="1304.2" y="-16.1">2</text><text x="1322.7" y="-16.1">2</text><text x="1341.2" y="-2.2">0</text><text x="1359.7" y="-36.9">5</text><text x="1378.2" y="-64.7">9</text><text x="1396.7" y="-57.8">8</text>
</g>
<g class="dt"><text x="749.2" y="9.8">16.6.2021</text><text x="878.7" y="9.8">23.6.2021</text><text x="1008.2" y="9.8">30.6.2021</text><text x="1137.7" y="9.8">7.7.2021</text><text x="1267.2" y="9.8">14.7.2021</text><text x="1396.7" y="9.8">21.7.2021</text></g>
</g>
<polyline class="ma" points="638.2,422 656.7,420.9 693.7,416 749.2,419.8 786.2,422 823.2,431.5 841.7,429.6 878.7,432.8 915.7,435 952.7,429.6 989.7,430.1 1008.2,429.6 1045.2,430.7 1063.7,430 1082.2,435.6 1100.7,433.4 1156.2,434.5 1193.2,428.7 1230.2,429.6 1267.2,426.8 1304.2,426 1322.7,423.3 1341.2,416"/>

<!-- ===== TRAILS ===== -->
<g class="tr">
<polyline stroke="#9c9a3c" points="484.6,795.7 518.4,792.3 602.8,757.9 788.4,627.4 801.5,601.7 855.8,504.2 850.3,326.7 841,37.6 628.8,37.6 383.8,96.6 330.7,351.2 284.5,571.7 281.7,588 246,694"/>
<polyline stroke="#9c9a3c" points="490,797.6 518.7,794 552.6,790.8"/>
<polyline stroke="#dc143c" points="503.6,820.8 596,815 670.3,806.5 854,772 1061.7,715.4 1118.8,699.6 1310.8,586.6 1353,457.3 1426.5,217.8 1347.3,37.6 1311.8,37.6 1041,232.7 535.3,442.3 268.1,705"/>
<polyline stroke="#00a000" points="424.7,773.1 434.1,767.3 454.7,726.7 467.1,684.5 497.8,658.6 553.3,572 572.1,443 516.5,501.7 503.5,393.9 310.3,609.5 300.8,620.6 281.7,625.3 235.5,686 171,681.9 177,716 164.7,732.3"/>
<polyline stroke="#1e90ff" points="343.8,666.4 338.9,646.5 283.1,678.3 269.5,654.7 232,690 186,710 182,733 170,745 150,760 143,775"/>
<polyline stroke="#20b2aa" points="325.3,533.5 312.6,596 292.6,694.1 289,715 281.7,740.4 248.3,769.8 215,792.1 226.3,777 226,745 258.6,732.2"/>
<polyline stroke="#20b2aa" points="215.9,751.3 226.8,730.1"/>
<polyline stroke="#a000a0" points="131.5,748 115,758 103,762 99,768 115,740 118,722 124,696 126.6,679.2 125,722 112,760"/>
<polyline stroke="#990000" points="74,816.6 74,799 97,770 119.8,751.3 119.8,314.4 77.6,571.7 65.3,641"/>
<polyline stroke="#990000" points="119.8,700 155.7,478.6 150,560 152,700"/>
<polyline stroke="#ff7f50" points="123.3,564.8 128.5,303.6 117,313 104.8,571.7 99,640 64,707.7 43.6,805.7"/>
<polyline stroke="#ff7f50" points="64,707.7 58.5,822"/>
<polyline stroke="#9acd32" points="198.2,708.3 198.2,669.6 149.7,677.8 156.5,571.7 168.8,288.6"/>
<polyline stroke="#9acd32" points="136.1,571.7 149.7,313.1"/>
<polyline stroke="#9acd32" points="30,857.5 101.3,696.9 113,758"/>
<polyline stroke="#708090" points="230.8,370 186.5,479.1 174.2,571.7 160,640 141,700 125,760"/>
<polyline stroke="#708090" points="51.7,824.8 51.7,838.4 141.6,800.3 141.6,826.2 119,835.7"/>
<polyline stroke="#a0522d" points="231.4,697.4 141.6,786.7"/>
<polyline stroke="#a0522d" points="174.2,506.3 152.4,560.7 152.4,760"/>
<polyline stroke="#daa520" points="354.4,668.8 266.8,706.4 246.4,694.1 212.3,676.4 213.7,736.3 137.5,792.1"/>
</g>

<!-- ===== BUBBLES ===== -->
<g class="bub">
<circle cx="343.8" cy="666.4" r="54.9" fill="#1e90ff" fill-opacity="0.55"/>
<text class="bn" x="343" y="658.8">1,79</text><text class="bnm" x="343" y="670.4">OS</text><text class="bn" x="342.5" y="680.6">25</text>
<circle cx="354.4" cy="668.8" r="25.5" fill="#daa520" fill-opacity="0.6"/>
<text class="bn" x="355.5" y="660.7">1,76</text><text class="bnm" x="355.5" y="672.3">GŠ</text><text class="bn" x="355.5" y="682.5">25</text>
<circle cx="292.1" cy="715.9" r="25.5" fill="#20b2aa" fill-opacity="0.55"/>
<text class="bn" x="291.3" y="708.3">1,33</text><text class="bnm" x="291.8" y="719.9">OK</text><text class="bn" x="291.8" y="730.1">21</text>
<circle cx="131.5" cy="748" r="41.8" fill="#a000a0" fill-opacity="0.55"/>
<text class="bn" x="130.7" y="739.6">1,04</text><text class="bnm" x="130.7" y="751.2">PD</text><text class="bn" x="130.7" y="761.9">8</text>
<circle cx="123.3" cy="564.8" r="37.4" fill="#ff7f50" fill-opacity="0.58"/>
<text class="bn" x="122" y="557.2">2,71</text><text class="bnm" x="123.3" y="568.8">SA</text><text class="bn" x="122.5" y="579">7</text>
<circle cx="424.7" cy="773.1" r="33.5" fill="#00a000" fill-opacity="0.55"/>
<text class="bn" x="424.7" y="765">0,81</text><text class="bnm" x="424.7" y="777.1">GO</text><text class="bn" x="424.1" y="787.3">31</text>
<circle cx="485.1" cy="795.7" r="20.3" fill="#808000" fill-opacity="0.55"/>
<text class="bn" x="484.6" y="787.8">0,60</text><text class="bnm" x="484.6" y="799.7">PS</text><text class="bn" x="484" y="809.9">36</text>
<circle cx="521.8" cy="812.6" r="27.9" fill="#dc143c" fill-opacity="0.5"/>
<text class="bn" x="521.3" y="804.4">0,45</text><text class="bnm" x="520.5" y="816">JV</text><text class="bn" x="520.5" y="826.2">38</text>
<circle cx="231.4" cy="697.4" r="24.5" fill="#a0522d" fill-opacity="0.55"/>
<text class="bn" x="230.6" y="689.3">1,50</text><text class="bnm" x="231.4" y="700.9">PM</text><text class="bn" x="230" y="711.6">16</text>
<circle cx="198.2" cy="708.3" r="17.4" fill="#9acd32" fill-opacity="0.55"/>
<text class="bn" x="198.2" y="700.7">1,40</text><text class="bnm" x="198.2" y="712.3">PN</text><text class="bn" x="197.4" y="722.7">13</text>
<circle cx="84.1" cy="796.2" r="19.7" fill="#990000" fill-opacity="0.5"/>
<text class="bn" x="84.1" y="787.8">0,60</text><text class="bnm" x="84.1" y="799.4">KO</text><text class="bn" x="83.6" y="810.4">4</text>
<circle cx="230.8" cy="370" r="17.2" fill="#708090" fill-opacity="0.58"/>
<text class="bn" x="230.8" y="362.1">4,50</text><text class="bnm" x="230.8" y="374">ZA</text><text class="bn" x="230" y="383.9">16</text>
</g>

<!-- Slovenia reference line & flags -->
<line x1="284.5" y1="651" x2="284.5" y2="861" stroke="#7a7a7a" stroke-opacity="0.6" stroke-width="1.8"/>
<line x1="281.5" y1="773.6" x2="287.5" y2="773.6" stroke="#7a7a7a" stroke-opacity="0.6" stroke-width="1"/>
<g opacity="0.75">
<rect x="276.3" y="639.1" width="16.3" height="4" fill="#f4f4f4"/>
<rect x="276.3" y="643.1" width="16.3" height="4" fill="#3030ff"/>
<rect x="276.3" y="647.1" width="16.3" height="4" fill="#ff3030"/>
<rect x="278.5" y="640.5" width="2.5" height="3.5" fill="#0000cc"/>
</g>
<text x="295" y="648.3" font-size="9" fill="#2f5f8f">20,0</text>
<g opacity="0.75">
<rect x="276.3" y="861.5" width="16.3" height="3.6" fill="#f4f4f4"/>
<rect x="276.3" y="865.1" width="16.3" height="3.6" fill="#3030ff"/>
<rect x="276.3" y="868.7" width="16.3" height="3.6" fill="#ff3030"/>
</g>
<text x="284.4" y="872" font-size="9.5" fill="#2f4f4f" text-anchor="middle">20</text>
<text x="297" y="872" font-size="9.5" fill="#2f4f4f">20,0</text>
<rect x="37" y="855.6" width="23" height="4.7" fill="#ffffff"/>
<rect x="37" y="860.3" width="23" height="4.7" fill="#0000ff"/>
<rect x="37" y="865" width="23" height="4.7" fill="#ff0000"/>
<rect x="40.5" y="857.5" width="4" height="5" fill="#0000cc" stroke="#fff" stroke-width="0.6"/>

<!-- ===== PIE ===== -->
<g stroke="#a8a8a8" stroke-width="0.8">
<path d="M226.5,225.1 L235.8,73.5 A151.9,151.9 0 0 0 74.6,224.6 Z" fill="#1e90ff"/>
<path d="M226.5,225.1 L337.6,94.5 A171.5,171.5 0 0 0 242.3,54.3 Z" fill="#00a000"/>
<path d="M226.5,225.1 L312.2,151.4 A113,113 0 0 0 300.9,140.1 Z" fill="#9acd32"/>
<path d="M226.5,225.1 L372.3,170.6 A155.7,155.7 0 0 0 346.3,125.6 Z" fill="#daa520"/>
<path d="M226.5,225.1 L367,224.4 A140.5,140.5 0 0 0 359.1,178.7 Z" fill="#20b2aa"/>
<path d="M226.5,225.1 L343.4,266.3 A123.9,123.9 0 0 0 350.4,226.8 Z" fill="#a0522d"/>
<path d="M226.5,225.1 L249.9,310.7 A88.7,88.7 0 0 0 309.4,256.6 Z" fill="#a000a0"/>
<path d="M226.5,225.1 L230,290.6 A65.6,65.6 0 0 0 241.7,288.9 Z" fill="#990000"/>
<path d="M226.5,225.1 L171.2,290.6 A85.7,85.7 0 0 0 228.7,310.8 Z" fill="#ff7f50"/>
<path d="M226.5,225.1 L130.4,302.4 A123.3,123.3 0 0 0 144.2,316.9 Z" fill="#708090"/>
<path d="M226.5,225.1 L60.2,305.2 A184.6,184.6 0 0 0 80,337.5 Z" fill="#808000"/>
<path d="M226.5,225.1 L34.9,227.4 A191.6,191.6 0 0 0 52.9,306.1 Z" fill="#dc143c"/>
</g>
<g class="wl">
<text x="142.4" y="138.3">OS</text>
<text x="277.7" y="101.3">GO</text>
<text x="289.9" y="163.9">PN</text>
<text x="333.5" y="165.8">GŠ</text>
<text x="337" y="208.2">OK</text>
<text x="322.6" y="246.1">PM</text>
<text x="273.6" y="282">PD</text>
<text x="233.6" y="280.9">KO</text>
<text x="202" y="292.9">SA</text>
<text x="153.8" y="296.4">ZA</text>
<text x="100.2" y="306.5">PS</text>
<text x="75.4" y="263">JV</text>
</g>
<circle cx="226.5" cy="225.1" r="15.5" fill="#f2f0ee" stroke="#a0a0a0" stroke-width="0.8"/>
<text x="226.5" y="229" font-size="10.5" fill="#2f3f3f" text-anchor="middle">7d</text>
</svg>
</body></html>
